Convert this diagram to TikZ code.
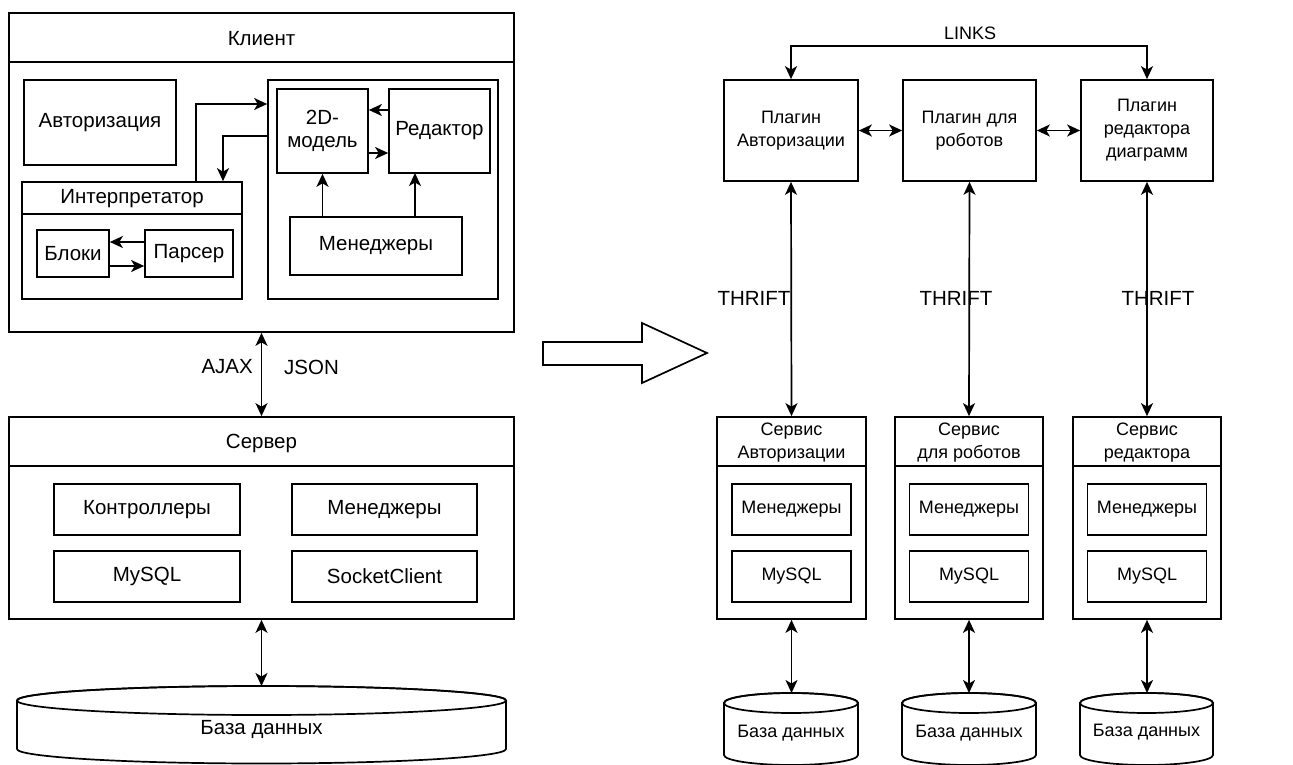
\documentclass[tikz,border=0pt]{standalone}
\usepackage{fontspec}
\setmainfont{Liberation Sans}
\usetikzlibrary{arrows.meta,calc}
\newcommand\mydb[5]{%
 \draw[line, fill=white] ({#1-#3},#2) -- ({#1-#3},#5) arc[start angle=180,end angle=0,x radius=#3,y radius=#4] -- ({#1+#3},#2) arc[start angle=0,end angle=-180,x radius=#3,y radius=#4] -- cycle;
 \draw[line] (#1,#2) ellipse[x radius=#3,y radius=#4];}
\begin{document}
\begin{tikzpicture}[x=1pt,y=-1pt,
  every node/.style={font=\fontsize{20.5}{23.5}\selectfont},
  small/.style={font=\fontsize{18}{23}\selectfont},
  box/.style={draw, line width=1.7pt, rectangle, inner sep=0pt, align=center},
  lbl/.style={inner sep=0pt, align=center},
  line/.style={line width=1.7pt},
  arr/.style={line width=1.7pt, -{Stealth[length=13pt,width=12pt,inset=3.5pt]}},
  darr/.style={line width=1.7pt, {Stealth[length=13pt,width=12pt,inset=3.5pt]}-{Stealth[length=13pt,width=12pt,inset=3.5pt]}}]
\useasboundingbox (0,0) rectangle (1293,765);

% ---------- Client ----------
\node[box, minimum width=505pt, minimum height=319pt] (client) at (261.5,172.5) {};
\draw[line] ([yshift=-50pt]client.north west) -- ([yshift=-50pt]client.north east);
\node[lbl] (clientT) at (261.5,39) {Клиент};
\node[box, minimum width=152pt, minimum height=85pt] (auth) at (100,122.5) {Авторизация};

\node[box, minimum width=220pt, minimum height=117pt] (interp) at (132,240.5) {};
\draw[line] ([yshift=-33pt]interp.north west) -- ([yshift=-33pt]interp.north east);
\node[lbl] (interpT) at (132,199) {Интерпретатор};
\node[box, minimum width=72pt, minimum height=47pt] (bloki) at (73,253.5) {Блоки};
\node[box, minimum width=88pt, minimum height=47pt] (parser) at (189,253.5) {Парсер};
\draw[arr] ([yshift=11.5pt]parser.west) -- ([yshift=11.5pt]bloki.east);
\draw[arr] ([yshift=-12.5pt]bloki.east) -- ([yshift=-12.5pt]parser.west);

\node[box, minimum width=230pt, minimum height=219pt] (rbox) at (383,189.5) {};
\node[box, minimum width=91pt, minimum height=84pt] (model) at (322.5,131) {2D-\\модель};
\node[box, minimum width=101pt, minimum height=84pt] (editor) at (439.5,131) {Редактор};
\node[box, minimum width=172pt, minimum height=58pt] (cmgr) at (376,246) {Менеджеры};
\draw[arr] ([yshift=21pt]editor.west) -- ([yshift=21pt]model.east);
\draw[arr] ([yshift=-22pt]model.east) -- ([yshift=-22pt]editor.west);
\draw[arr] (cmgr.north -| model.south) -- (model.south);
\coordinate (edb) at (415,173);
\draw[arr] (cmgr.north -| edb) -- (edb);
\draw[arr] ([xshift=64pt]interp.north) |- ([yshift=85.5pt]rbox.west);
\draw[arr] ([yshift=53.5pt]rbox.west) -| ([xshift=91pt]interp.north);

% ---------- Server ----------
\node[box, minimum width=505pt, minimum height=202pt] (server) at (261.5,518) {};
\draw[line] ([yshift=-50pt]server.north west) -- ([yshift=-50pt]server.north east);
\node[lbl] (serverT) at (261.5,443) {Сервер};
\node[box, minimum width=186pt, minimum height=51pt] (ctrl) at (147,509.5) {Контроллеры};
\node[box, minimum width=185pt, minimum height=51pt] (smgr) at (384.5,509.5) {Менеджеры};
\node[box, minimum width=186pt, minimum height=51pt] (smysql) at (147,576.5) {MySQL};
\node[box, minimum width=185pt, minimum height=51pt] (socket) at (384.5,576.5) {SocketClient};

\draw[darr] (client.south) -- (server.north);
\node[lbl, anchor=east] (ajax) at (253,367) {AJAX};
\node[lbl, anchor=west] (json) at (284,367) {JSON};

\mydb{261.5}{700.5}{244.5}{14.5}{749}
\coordinate (db0top) at (261.5,686);
\node[lbl] (db0) at (261.5,729) {База данных};
\draw[darr] (server.south) -- (db0top);

% ---------- Big arrow ----------
\draw[line] (543,342) -- (642,342) -- (642,323) -- (707,353) -- (642,383) -- (642,365) -- (543,365) -- cycle;

% ---------- Plugins ----------
\node[box, small, minimum width=134pt, minimum height=101pt] (p1) at (791,130.5) {Плагин\\Авторизации};
\node[box, small, minimum width=133pt, minimum height=101pt] (p2) at (969.5,130.5) {Плагин для\\роботов};
\node[box, small, minimum width=132pt, minimum height=101pt] (p3) at (1147,130.5) {Плагин\\редактора\\диаграмм};
\draw[darr] (p1.north) -- ++(0,-33) -| (p3.north);
\node[lbl, small] (links) at (970,33) {LINKS};
\draw[darr] (p1.east) -- (p2.west);
\draw[darr] (p2.east) -- (p3.west);

% ---------- Services ----------
\foreach \n/\cx/\w/\t in {1/791.5/149/{Сервис\\Авторизации}, 2/969/148/{Сервис\\для роботов}, 3/1147/148/{Сервис\\редактора}} {
  \node[box, minimum width=\w pt, minimum height=202pt] (s\n) at (\cx,518) {};
  \draw[line] ([yshift=-50pt]s\n.north west) -- ([yshift=-50pt]s\n.north east);
  \node[lbl, small] (s\n T) at (\cx,443) {\t};
  \node[box, small, minimum width=119pt, minimum height=51pt] (m\n) at (\cx,509.5) {Менеджеры};
  \node[box, small, minimum width=119pt, minimum height=51pt] (q\n) at (\cx,576.5) {MySQL};
}
\draw[darr] (p1.south) -- (s1.north);
\draw[darr] (p2.south) -- (s2.north);
\draw[darr] (p3.south) -- (s3.north);
\node[lbl] (t1) at (754,298) {THRIFT};
\node[lbl] (t2) at (956,298) {THRIFT};
\node[lbl] (t3) at (1158,298) {THRIFT};

\mydb{791}{703}{67}{10}{755}
\mydb{969}{703}{67}{10}{755}
\mydb{1146.5}{703}{66.5}{10}{755}
\coordinate (db1top) at (791.5,693);
\coordinate (db2top) at (969,693);
\coordinate (db3top) at (1147,693);
\node[lbl, small] (db1) at (791,733) {База данных};
\node[lbl, small] (db2) at (969,733) {База данных};
\node[lbl, small] (db3) at (1146.5,732) {База данных};
\draw[darr] (s1.south) -- (db1top);
\draw[darr] (s2.south) -- (db2top);
\draw[darr] (s3.south) -- (db3top);
\end{tikzpicture}
\end{document}
